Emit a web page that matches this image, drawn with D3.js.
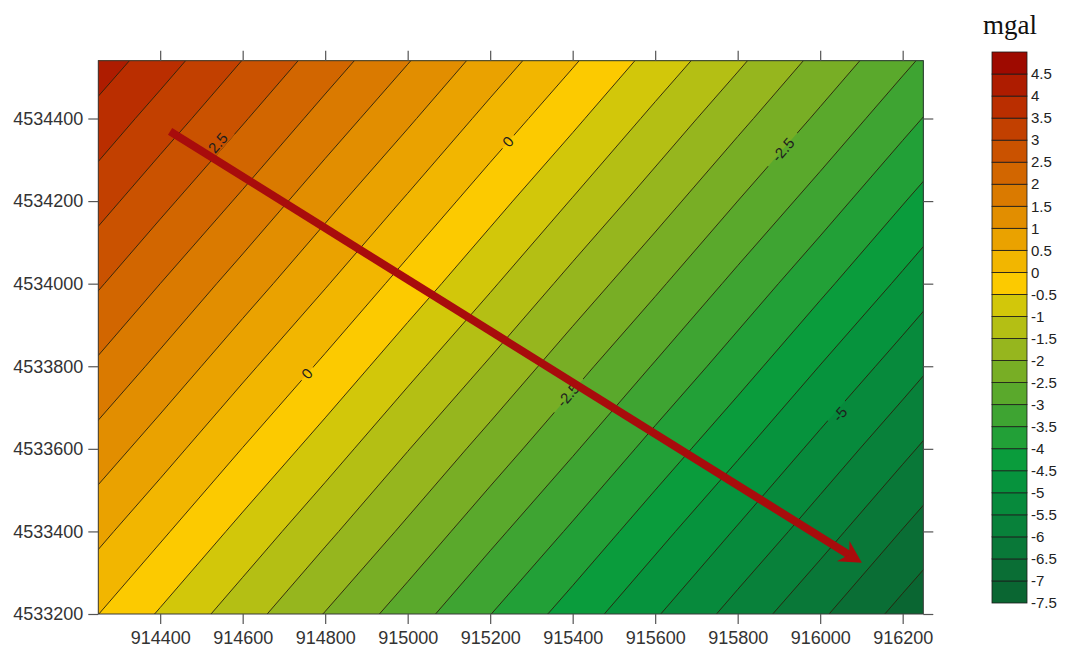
<!DOCTYPE html>
<html>
<head>
<meta charset="utf-8">
<script src="https://cdn.jsdelivr.net/npm/d3@7"></script>
<style>
    body { margin: 0; background: #fff; }
    svg { display: block; font-family: "Liberation Sans", Arial, sans-serif; }
</style>
</head>
<body>
<div id="gravity-map"></div>
<script>

// Grid nodes (easting / northing in m), top row first

var gridEast = [914200, 914400, 914600, 914800, 915000, 915200, 915400, 915600, 915800, 916000, 916200, 916400];
var gridNorth = [4534600, 4534400, 4534200, 4534000, 4533800, 4533600, 4533400, 4533200];

// Anomaly at the grid nodes (mgal)

var anomaly = [
    [ 4.65,  3.92,  3.18,  2.45,  1.72,  0.98,  0.25, -0.49, -1.22, -1.96, -2.69, -3.42 ],
    [ 4.01,  3.28,  2.55,  1.81,  1.08,  0.34, -0.39, -1.13, -1.86, -2.59, -3.33, -4.06 ],
    [ 3.38,  2.64,  1.91,  1.17,  0.44, -0.30, -1.03, -1.76, -2.50, -3.23, -3.97, -4.70 ],
    [ 2.74,  2.00,  1.27,  0.54, -0.20, -0.93, -1.67, -2.40, -3.14, -3.87, -4.60, -5.34 ],
    [ 2.10,  1.37,  0.63, -0.10, -0.84, -1.57, -2.31, -3.04, -3.77, -4.51, -5.24, -5.98 ],
    [ 1.46,  0.73, -0.01, -0.74, -1.48, -2.21, -2.94, -3.68, -4.41, -5.15, -5.88, -6.61 ],
    [ 0.82,  0.09, -0.65, -1.38, -2.11, -2.85, -3.58, -4.32, -5.05, -5.78, -6.52, -7.25 ],
    [ 0.19, -0.55, -1.28, -2.02, -2.75, -3.49, -4.22, -4.95, -5.69, -6.42, -7.16, -7.89 ]
];

// Contour levels and band colours (low to high)

var levels = [-7.5, -7, -6.5, -6, -5.5, -5, -4.5, -4, -3.5, -3, -2.5, -2, -1.5, -1, -0.5, 0, 0.5, 1, 1.5, 2, 2.5, 3, 3.5, 4, 4.5];

var bandColors = [
    "#0a6632", "#0a6e35", "#097838", "#08813a", "#078a3c", "#06933d", "#0a9c3c", "#22a037",
    "#3ea432", "#5aa92c", "#78ae25", "#96b61e", "#b4bf14", "#d2c70a", "#fcca00", "#f2b600",
    "#eaa200", "#e28e00", "#da7a00", "#d26600", "#ca5200", "#c24000", "#ba2e00", "#ae1c00",
    "#9e0a00"
];

// Contour labels

var contourLabels = [
    { level: 2.5,  east: 914540, north: 4534341 },
    { level: 0,    east: 915243, north: 4534344 },
    { level: -2.5, east: 915910, north: 4534324 },
    { level: 0,    east: 914756, north: 4533782 },
    { level: -2.5, east: 915389, north: 4533730 },
    { level: -5,   east: 916048, north: 4533684 }
];

// Profile line

var profile = [ [914424, 4534369], [916101, 4533324] ];

// Axis ticks

var xTicks = [914400, 914600, 914800, 915000, 915200, 915400, 915600, 915800, 916000, 916200];
var yTicks = [4533200, 4533400, 4533600, 4533800, 4534000, 4534200, 4534400];

var width = 1068, height = 649;

var svg = d3.select("#gravity-map").append("svg")
    .attr("width", width)
    .attr("height", height);

var x = d3.scaleLinear().domain([914250, 916250]).range([98.3, 923.3]);
var y = d3.scaleLinear().domain([4533200, 4534540]).range([614, 60.7]);

// grid index -> map coordinates (d3.contours puts node i at i + 0.5)

var gx = d3.scaleLinear().domain([0.5, gridEast.length - 0.5]).range([gridEast[0], gridEast[gridEast.length - 1]]);
var gy = d3.scaleLinear().domain([0.5, gridNorth.length - 0.5]).range([gridNorth[0], gridNorth[gridNorth.length - 1]]);

var path = d3.geoPath(d3.geoTransform({
    point: function ( px, py ) {
        this.stream.point(x(gx(px)), y(gy(py)));
    }
}));

var contours = d3.contours()
    .size([gridEast.length, gridNorth.length])
    .thresholds(levels)(d3.merge(anomaly));

var defs = svg.append("defs");

defs.append("clipPath")
    .attr("id", "plot-clip")
    .append("rect")
    .attr("x", x.range()[0])
    .attr("y", y.range()[1])
    .attr("width", x.range()[1] - x.range()[0])
    .attr("height", y.range()[0] - y.range()[1]);

var angle = -49;

var mask = defs.append("mask")
    .attr("id", "label-gap")
    .attr("maskUnits", "userSpaceOnUse")
    .attr("x", 0).attr("y", 0)
    .attr("width", width).attr("height", height);

mask.append("rect")
    .attr("width", width)
    .attr("height", height)
    .attr("fill", "#fff");

mask.selectAll("rect.gap")
    .data(contourLabels)
    .join("rect")
    .attr("class", "gap")
    .attr("transform", function ( d ) { return "translate(" + x(d.east) + "," + y(d.north) + ") rotate(" + angle + ")"; })
    .attr("x", function ( d ) { return -(String(d.level).length * 4.5 + 4); })
    .attr("y", -7)
    .attr("width", function ( d ) { return String(d.level).length * 9 + 8; })
    .attr("height", 14)
    .attr("fill", "#000");

// Filled bands

var field = svg.append("g").attr("clip-path", "url(#plot-clip)");

field.append("rect")
    .attr("x", x.range()[0])
    .attr("y", y.range()[1])
    .attr("width", x.range()[1] - x.range()[0])
    .attr("height", y.range()[0] - y.range()[1])
    .attr("fill", bandColors[0]);

field.append("g")
    .selectAll("path")
    .data(contours)
    .join("path")
    .attr("d", path)
    .attr("fill", function ( d, i ) { return bandColors[i]; });

// Contour lines

field.append("g")
    .attr("mask", "url(#label-gap)")
    .selectAll("path")
    .data(contours)
    .join("path")
    .attr("d", path)
    .attr("fill", "none")
    .attr("stroke", "#2a220c")
    .attr("stroke-opacity", 0.9)
    .attr("stroke-width", 1);

// Contour labels

field.append("g")
    .selectAll("text")
    .data(contourLabels)
    .join("text")
    .attr("transform", function ( d ) { return "translate(" + x(d.east) + "," + y(d.north) + ") rotate(" + angle + ")"; })
    .attr("text-anchor", "middle")
    .attr("dy", "0.35em")
    .style("font-size", "15px")
    .style("fill", "#1e1e1e")
    .text(function ( d ) { return d.level; });

// Profile arrow

var p0 = [x(profile[0][0]), y(profile[0][1])];
var p1 = [x(profile[1][0]), y(profile[1][1])];
var len = Math.hypot(p1[0] - p0[0], p1[1] - p0[1]);
var ux = (p1[0] - p0[0]) / len, uy = (p1[1] - p0[1]) / len;
var headLen = 22, headHalf = 12, notch = 15;

svg.append("line")
    .attr("x1", p0[0])
    .attr("y1", p0[1])
    .attr("x2", p1[0] - ux * notch)
    .attr("y2", p1[1] - uy * notch)
    .attr("stroke", "#a80c0c")
    .attr("stroke-width", 8);

svg.append("path")
    .attr("d", d3.line()([
        p1,
        [p1[0] - ux * headLen - uy * headHalf, p1[1] - uy * headLen + ux * headHalf],
        [p1[0] - ux * notch, p1[1] - uy * notch],
        [p1[0] - ux * headLen + uy * headHalf, p1[1] - uy * headLen - ux * headHalf]
    ]) + "Z")
    .attr("fill", "#a80c0c");

// Frame and axes

svg.append("rect")
    .attr("x", x.range()[0])
    .attr("y", y.range()[1])
    .attr("width", x.range()[1] - x.range()[0])
    .attr("height", y.range()[0] - y.range()[1])
    .attr("fill", "none")
    .attr("stroke", "#3a3a3a")
    .attr("stroke-width", 1);

var fmt = d3.format("d");

svg.append("g")
    .attr("transform", "translate(0," + y.range()[0] + ")")
    .call(d3.axisBottom(x).tickValues(xTicks).tickFormat(fmt).tickSize(10).tickPadding(7));

svg.append("g")
    .attr("transform", "translate(0," + y.range()[1] + ")")
    .call(d3.axisTop(x).tickValues(xTicks).tickFormat("").tickSize(10));

svg.append("g")
    .attr("transform", "translate(" + x.range()[0] + ",0)")
    .call(d3.axisLeft(y).tickValues(yTicks).tickFormat(fmt).tickSize(10).tickPadding(5));

svg.append("g")
    .attr("transform", "translate(" + x.range()[1] + ",0)")
    .call(d3.axisRight(y).tickValues(yTicks).tickFormat("").tickSize(10));

svg.selectAll(".domain").remove();
svg.selectAll(".tick line").attr("stroke", "#555").attr("stroke-width", 1.2);
svg.selectAll(".tick text")
    .style("font-family", "'Liberation Sans', Arial, sans-serif")
    .style("font-size", "18px")
    .style("fill", "#333");

// Colour bar

var cbar = d3.scaleLinear().domain([-7.5, 5]).range([603, 52]);
var step = levels[1] - levels[0];

var legend = svg.append("g");

legend.selectAll("rect")
    .data(levels)
    .join("rect")
    .attr("x", 992)
    .attr("y", function ( d ) { return cbar(d + step); })
    .attr("width", 35)
    .attr("height", function ( d ) { return cbar(d) - cbar(d + step); })
    .attr("fill", function ( d, i ) { return bandColors[i]; })
    .attr("stroke", "#1a1a1a")
    .attr("stroke-width", 0.8);

legend.selectAll("text")
    .data(levels)
    .join("text")
    .attr("x", 1031)
    .attr("y", function ( d ) { return cbar(d); })
    .attr("dy", "0.35em")
    .style("font-size", "15px")
    .style("fill", "#222")
    .text(function ( d ) { return d; });

legend.append("text")
    .attr("x", 1010)
    .attr("y", 34)
    .attr("text-anchor", "middle")
    .style("font-family", "'Liberation Serif', 'Times New Roman', serif")
    .style("font-size", "27px")
    .style("fill", "#111")
    .text("mgal");

</script>
</body>
</html>
